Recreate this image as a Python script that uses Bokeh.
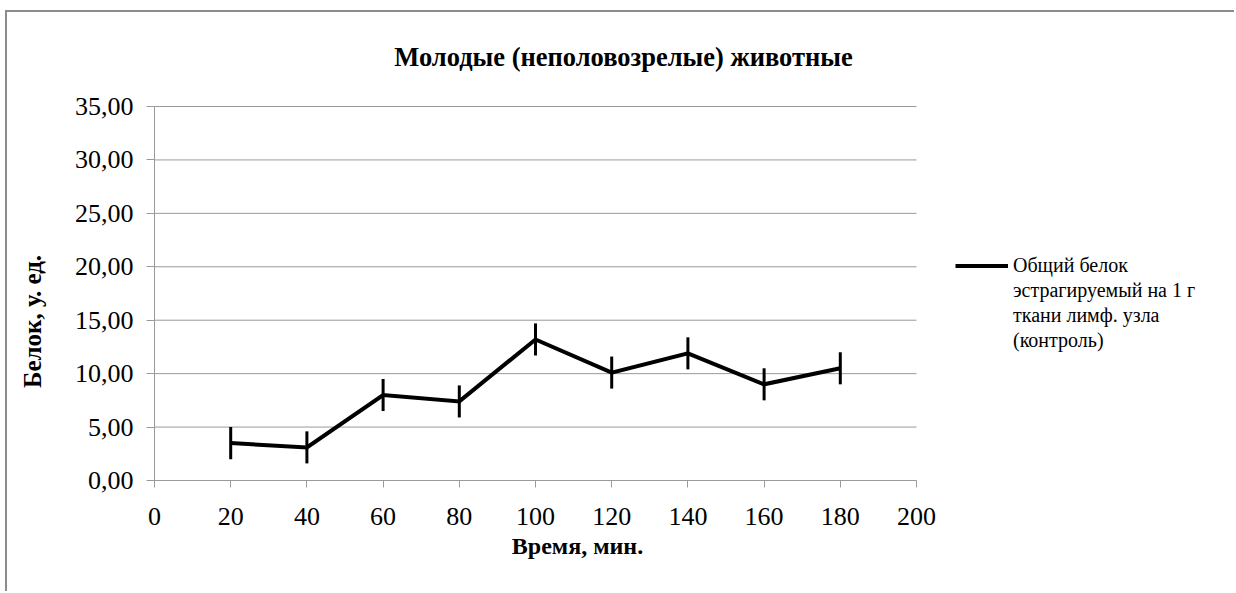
from bokeh.plotting import figure
from bokeh.models import (ColumnDataSource, Legend, LegendItem, Label,
                          FixedTicker, Range1d)
from bokeh.embed import file_html
from bokeh.resources import INLINE

# ---- data -------------------------------------------------------------
time_min = [20, 40, 60, 80, 100, 120, 140, 160, 180]
protein = [3.5, 3.1, 8.0, 7.4, 13.2, 10.1, 11.9, 9.0, 10.5]
protein_err = [1.5, 1.5, 1.5, 1.5, 1.5, 1.5, 1.5, 1.5, 1.5]

x_ticks = [0, 20, 40, 60, 80, 100, 120, 140, 160, 180, 200]
y_ticks = [0, 5, 10, 15, 20, 25, 30, 35]
y_tick_labels = ["0,00", "5,00", "10,00", "15,00", "20,00", "25,00", "30,00", "35,00"]

chart_title = "Молодые (неполовозрелые) животные"
x_title = "Время, мин."
y_title = "Белок, у. ед."
series_lines = ["Общий белок", "эстрагируемый на 1 г", "ткани лимф. узла", "(контроль)"]

# ---- layout (canvas pixels, measured from the top-left corner) ---------
W, H = 1229, 581
AX_L, AX_R, AX_T, AX_B = 147, 909, 94, 468   # box spanned by the two axes

SERIF = "Liberation Serif"
GRID = "#9a9a9a"
FRAME_GRAY = "#8c8c8c"

# the drawing area covers the whole canvas; axes sit at fixed data positions
x_px = (AX_R - AX_L) / (x_ticks[-1] - x_ticks[0])
y_px = (AX_B - AX_T) / (y_ticks[-1] - y_ticks[0])
x_range = Range1d(x_ticks[0] - AX_L / x_px, x_ticks[-1] + (W - AX_R) / x_px)
y_range = Range1d(y_ticks[0] - (H - AX_B) / y_px, y_ticks[-1] + AX_T / y_px)

p = figure(width=W, height=H, output_backend="svg", toolbar_location=None,
           x_range=x_range, y_range=y_range, title_location=None,
           min_border=0, min_border_left=0, min_border_right=0,
           min_border_top=0, min_border_bottom=0,
           styles={"margin-left": "5px", "margin-top": "10px",
                   "border-left": f"2px solid {FRAME_GRAY}",
                   "border-top": f"2px solid {FRAME_GRAY}"})
p.outline_line_color = None
p.background_fill_color = "white"
p.border_fill_color = "white"
p.xgrid.visible = False
p.ygrid.visible = False

# horizontal gridlines at each y tick, across the x-axis span
p.segment(x0=x_ticks[0], x1=x_ticks[-1], y0=y_ticks, y1=y_ticks,
          line_color=GRID, line_width=1, level="underlay")

src = ColumnDataSource(dict(
    x=time_min,
    y=protein,
    lo=[v - e for v, e in zip(protein, protein_err)],
    hi=[v + e for v, e in zip(protein, protein_err)],
))

line_r = p.line("x", "y", source=src, line_color="black", line_width=4,
                line_join="miter")
p.segment(x0="x", y0="lo", x1="x", y1="hi", source=src,
          line_color="black", line_width=3)

# axes
for ax in (p.xaxis[0], p.yaxis[0]):
    ax.fixed_location = 0
    ax.axis_line_color = GRID
    ax.major_tick_line_color = GRID
    ax.major_tick_in = 0
    ax.minor_tick_line_color = None
    ax.major_label_text_font = SERIF
    ax.major_label_text_font_size = "26px"
    ax.major_label_text_color = "black"

p.xaxis.bounds = (x_ticks[0], x_ticks[-1])
p.xaxis.ticker = FixedTicker(ticks=x_ticks)
p.xaxis.major_tick_out = 7
p.xaxis.major_label_standoff = 20

p.yaxis.bounds = (y_ticks[0], y_ticks[-1])
p.yaxis.ticker = FixedTicker(ticks=y_ticks)
p.yaxis.major_label_overrides = {t: s for t, s in zip(y_ticks, y_tick_labels)}
p.yaxis.major_tick_out = 8
p.yaxis.major_label_standoff = 13


def label(text, left, top, size, **kw):
    """Bold caption placed in canvas pixels (left, top measured from top-left)."""
    p.add_layout(Label(x=left, y=H - top, x_units="screen", y_units="screen",
                       text=text, text_font=SERIF, text_font_style="bold",
                       text_font_size=size, text_color="black", **kw))


label(chart_title, 616, 44.7, "26.5px", text_align="center",
      text_baseline="alphabetic")
label(x_title, 570, 533, "24px", text_align="center",
      text_baseline="alphabetic")
label(y_title, 25, 309, "25px", text_align="center",
      text_baseline="middle", angle=1.5708)

# legend; the series name wraps over four rows
items = [LegendItem(label=series_lines[0], renderers=[line_r])]
items += [LegendItem(label=t, renderers=[]) for t in series_lines[1:]]
legend = Legend(items=items, location=(948, 240), glyph_width=53,
                glyph_height=25, label_height=25, label_standoff=5,
                padding=0, margin=0, spacing=0,
                label_text_font=SERIF, label_text_font_size="20px",
                label_text_color="black",
                border_line_color=None, background_fill_alpha=0)
p.add_layout(legend)

open("out.html", "w").write(file_html(p, INLINE))
